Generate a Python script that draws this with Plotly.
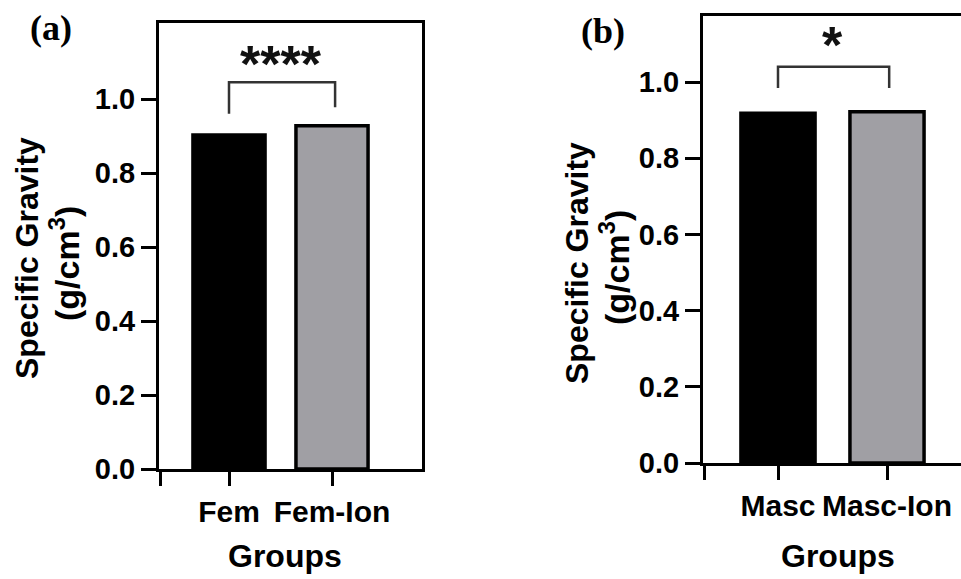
import plotly.graph_objects as go

# ---- data ----
groups_a = ["Fem", "Fem-Ion"]
values_a = [0.903, 0.928]
groups_b = ["Masc", "Masc-Ion"]
values_b = [0.918, 0.922]
bar_colors = ["#000000", "#a09fa4"]
ytick_vals = [0.0, 0.2, 0.4, 0.6, 0.8, 1.0]
ytick_text = ["0.0", "0.2", "0.4", "0.6", "0.8", "1.0"]
sig_a = "****"
sig_b = "*"

W, H = 961, 579
def xp(px):
    return px / W
def yp(py):
    return 1 - py / H

FONT = "Liberation Sans"
SERIF = "Liberation Serif"

fig = go.Figure()

# panel a
xa_range = [(159 - 229) / 103, (422 - 229) / 103]
ya_range = [0, (469 - 23) / 370]
fig.add_trace(go.Bar(
    x=[0, 1], y=values_a, width=0.70,
    marker=dict(color=bar_colors, line=dict(color="black", width=3.5)),
    xaxis="x", yaxis="y", showlegend=False))

# panel b
xb_range = [(703 - 778) / 109, (961 - 778) / 109]
yb_range = [0, (463 - 16) / 381]
fig.add_trace(go.Bar(
    x=[0, 1], y=values_b, width=0.68,
    marker=dict(color=bar_colors, line=dict(color="black", width=3.5)),
    xaxis="x2", yaxis="y2", showlegend=False))

xtickfont = dict(family=FONT, size=30, color="black", weight="bold")
ytickfont = dict(family=FONT, size=29, color="black", weight="bold")

common_x = dict(showline=True, linewidth=3, linecolor="black", ticks="outside",
                ticklen=14, tickwidth=3, tickcolor="black", showgrid=False,
                zeroline=False, tickfont=xtickfont, ticklabelstandoff=0)
common_y = dict(showline=True, linewidth=3, linecolor="black", ticks="outside",
                ticklen=15, tickwidth=3, tickcolor="black", showgrid=False,
                zeroline=False, tickfont=ytickfont, tickvals=ytick_vals,
                ticktext=ytick_text, ticklabelstandoff=0)

fig.update_layout(
    width=W, height=H, margin=dict(l=0, r=0, t=0, b=0, autoexpand=False),
    paper_bgcolor="white", plot_bgcolor="white",
    xaxis=dict(domain=[xp(159), xp(422)], range=xa_range, anchor="y",
               mirror=True, tickvals=[xa_range[0] + 0.01, 0, 1],
               ticktext=[""] + groups_a, **common_x),
    yaxis=dict(domain=[yp(469), yp(23)], range=ya_range, anchor="x",
               mirror=True, **common_y),
    xaxis2=dict(domain=[xp(703), 1.0], range=xb_range, anchor="y2",
                mirror=True, tickvals=[xb_range[0] + 0.01, 0, 1],
                ticktext=[""] + groups_b, **common_x),
    yaxis2=dict(domain=[yp(463), yp(16)], range=yb_range, anchor="x2",
                mirror=False, **common_y),
)

# significance brackets
def bracket(xref, yref, x0, x1, yl, yt, yr):
    fig.add_shape(type="path",
                  path=f"M {x0} {yl} L {x0} {yt} L {x1} {yt} L {x1} {yr}",
                  xref=xref, yref=yref, line=dict(color="#333333", width=2.5))

bracket("x", "y", 0, 1.03, 0.96, 1.045, 0.978)
bracket("x2", "y2", 0, 1.02, 0.984, 1.04, 0.984)

fig.add_annotation(text=sig_a, x=0.5, y=1.095, xref="x", yref="y",
                   showarrow=False, font=dict(family=FONT, size=52, color="#111111", weight="bold"))
fig.add_annotation(text=sig_b, x=0.5, y=1.098, xref="x2", yref="y2",
                   showarrow=False, font=dict(family=FONT, size=52, color="#111111", weight="bold"))

def txt(text, x, y, size, family=FONT, angle=0):
    fig.add_annotation(text=text, x=xp(x), y=yp(y), xref="paper", yref="paper",
                       xanchor="center", yanchor="middle", showarrow=False,
                       textangle=angle,
                       font=dict(family=family, size=size, color="black", weight="bold"))

txt("(a)", 51, 28, 36, SERIF)
txt("(b)", 603, 31, 36, SERIF)
txt("Groups", 285, 556, 32)
txt("Groups", 838, 556, 32)
txt("Specific Gravity", 27, 258, 32, angle=-90)
txt("(g/cm<sup>3</sup>)", 64, 264, 34, angle=-90)
txt("Specific Gravity", 577, 263, 32, angle=-90)
txt("(g/cm<sup>3</sup>)", 615, 268, 34, angle=-90)

fig.write_html("out.html", config={"displayModeBar": False},
               post_script="document.body.style.margin='0';document.body.style.overflow='hidden';")
